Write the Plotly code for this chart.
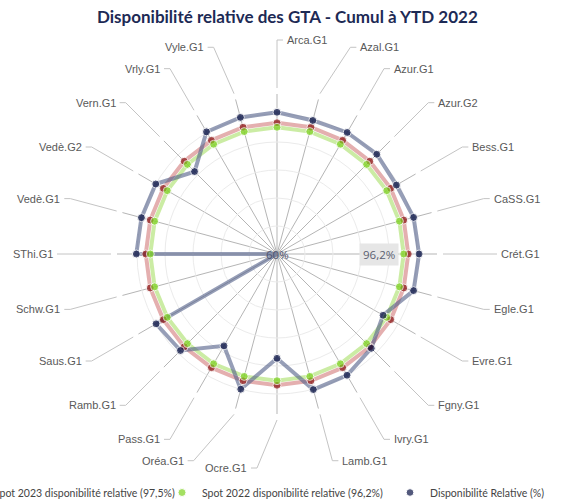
import math
import plotly.graph_objects as go

# ---------------- data ----------------
categories = ["Arca.G1", "Azal.G1", "Azur.G1", "Azur.G2", "Bess.G1", "CaSS.G1",
              "Crét.G1", "Egle.G1", "Evre.G1", "Fgny.G1", "Ivry.G1", "Lamb.G1",
              "Ocre.G1", "Oréa.G1", "Pass.G1", "Ramb.G1", "Saus.G1", "Schw.G1",
              "SThi.G1", "Vedè.G1", "Vedè.G2", "Vern.G1", "Vrly.G1", "Vyle.G1"]
dispo_relative = [100.5, 99.5, 100.1, 100.3, 99.4, 100.4,
                  100.6, 100.4, 95.0, 98.1, 100.0, 100.1,
                  89.8, 100.0, 90.3, 99.0, 99.9, 60.0,
                  100.2, 100.1, 100.0, 93.3, 100.3, 100.4]
spot_2023_value = 97.5
spot_2022_value = 96.2
spot_2023 = [spot_2023_value] * len(categories)
spot_2022 = [spot_2022_value] * len(categories)
axis_min = 60
axis_levels = [68, 76, 84, 92, 100]
series_names = ["Spot 2023 disponibilité relative (97,5%)",
                "Spot 2022 disponibilité relative (96,2%)",
                "Disponibilité Relative (%)"]
title_text = "Disponibilité relative des GTA - Cumul à YTD 2022"
center_label = "60%"
ring_label = "96,2%"

# ---------------- geometry / style ----------------
W, H = 575, 503
MB = 22                      # bottom margin (legend lives there)
PH = H - MB                  # plot-area height in px
CX, CY = 277, 254            # polar centre, px from top-left
R = 160                      # polar radius in px
PX_PER_UNIT = 3.5            # px per percentage point
r_max = axis_min + R / PX_PER_UNIT


def px(x, y):
    """pixel -> paper coordinates"""
    return x / W, 1 - y / PH


def polar_px(rpx, deg):
    a = math.radians(deg)
    return CX + rpx * math.sin(a), CY - rpx * math.cos(a)


theta_closed = categories + categories[:1]


def closed(vals):
    return list(vals) + list(vals[:1])


fig = go.Figure()

styles = [
    (spot_2023, "rgba(206,110,110,0.55)", "#8b1414", "legend"),
    (spot_2022, "rgba(160,220,90,0.55)", "#7ed321", "legend2"),
    (dispo_relative, "rgba(85,98,138,0.62)", "#0b1445", "legend3"),
]
for (vals, lc, mc, lg), name in zip(styles, series_names):
    fig.add_trace(go.Scatterpolar(r=closed(vals), theta=theta_closed, mode="lines",
                                  line=dict(color=lc, width=4), showlegend=False,
                                  hoverinfo="skip"))
for (vals, lc, mc, lg), name in zip(styles, series_names):
    # points sitting on the axis minimum are drawn at the centre without a dot
    sizes = [8 if v > axis_min else 0 for v in vals]
    fig.add_trace(go.Scatterpolar(r=vals, theta=categories, mode="markers",
                                  marker=dict(color=mc, size=sizes), name=name,
                                  legend=lg))

x0, y0 = px(CX - R, CY + R)
x1, y1 = px(CX + R, CY - R)

fig.update_layout(
    width=W, height=H,
    margin=dict(l=0, r=0, t=0, b=MB, autoexpand=False),
    paper_bgcolor="white", plot_bgcolor="white",
    font=dict(family="Liberation Sans, Arial, sans-serif", size=11, color="#595959"),
    polar=dict(
        domain=dict(x=[x0, x1], y=[y0, y1]),
        bgcolor="white",
        radialaxis=dict(range=[axis_min, r_max], tickvals=axis_levels,
                        showticklabels=False, ticks="", showline=False,
                        gridcolor="#ebebeb", gridwidth=1),
        angularaxis=dict(rotation=90, direction="clockwise", type="category",
                         categoryarray=categories, showline=False,
                         showticklabels=False, ticks="",
                         gridcolor="#b5b5b5", gridwidth=1),
    ),
    showlegend=True,
)

# legends (one per series so they can sit side by side like the original)
leg_font = dict(family="Lato, Open Sans, sans-serif", size=10.5, color="#444444")
for key, xpix in (("legend", -46), ("legend2", 162), ("legend3", 390)):
    fig.update_layout({key: dict(x=xpix / W, xanchor="left", y=3 / PH, yanchor="top",
                                 orientation="h", font=leg_font,
                                 bgcolor="rgba(0,0,0,0)", itemclick=False)})

# title
tx, ty = px(287, 17)
fig.add_annotation(x=tx, y=ty, xref="paper", yref="paper", text="<b>" + title_text + "</b>",
                   showarrow=False, xanchor="center", yanchor="middle",
                   font=dict(family="Lato, Open Sans, sans-serif", size=17, color="#1d2a55"))

# category labels with leader lines (labels near the vertical get pushed sideways)
R_START, R_LABEL = 166, 214
SIDE_PUSH = {15: 18, 345: 8, 180: 20, 195: 28}
n = len(categories)
for i, cat in enumerate(categories):
    deg = i * 360.0 / n
    s = math.sin(math.radians(deg))
    side = 1 if s > 1e-6 else (-1 if s < -1e-6 else (1 if deg < 90 else -1))
    extra = SIDE_PUSH.get(int(round(deg)), 0)
    xa, ya = polar_px(R_START, deg)
    xb, yb = polar_px(R_LABEL, deg)
    xb2 = xb + side * extra
    xc = xb2 + side * 6
    for (p, q) in (((xa, ya), (xb2, yb)), ((xb2, yb), (xc, yb))):
        px0, py0 = px(*p)
        px1, py1 = px(*q)
        fig.add_shape(type="line", xref="paper", yref="paper", x0=px0, y0=py0,
                      x1=px1, y1=py1, line=dict(color="#c4c4c4", width=1))
    lx, ly = px(xc + side * 2, yb)
    fig.add_annotation(x=lx, y=ly, xref="paper", yref="paper", text=cat, showarrow=False,
                       xanchor="left" if side > 0 else "right", yanchor="middle",
                       font=dict(size=11, color="#595959"))

# centre (axis minimum) label
cx_, cy_ = px(CX, CY)
fig.add_annotation(x=cx_, y=cy_, xref="paper", yref="paper", text=center_label,
                   showarrow=False, font=dict(family="Open Sans, sans-serif", size=11.5,
                                               color="#4d5470"))
# ring value label
rx, ry = polar_px(PX_PER_UNIT * (spot_2022_value - axis_min) - 25, 90)
rxp, ryp = px(rx, ry)
fig.add_annotation(x=rxp, y=ryp, xref="paper", yref="paper", text=ring_label,
                   showarrow=False, bgcolor="#e6e6e6", borderpad=3,
                   font=dict(family="Open Sans, sans-serif", size=11.5, color="#5a5e70"))

fig.write_html("out.html")
